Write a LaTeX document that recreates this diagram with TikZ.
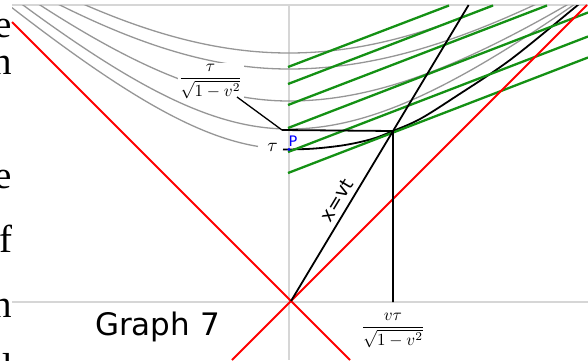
\documentclass[tikz,border=0pt]{standalone}
\usepackage{fontspec}
\newfontfamily\djv{DejaVu Sans}
\newfontfamily\pageserif{Liberation Serif}
\definecolor{axisgray}{RGB}{214,214,214}
\definecolor{hypgray}{RGB}{150,150,150}
\definecolor{simgreen}{RGB}{20,145,20}
\begin{document}
\begin{tikzpicture}[x=1pt,y=-1pt,
  axisline/.style={axisgray,line width=1.6pt},
  hyp/.style={hypgray,line width=1.3pt},
  simline/.style={simgreen,line width=2.3pt},
  cone/.style={red,line width=1.9pt},
  blk/.style={black,line width=1.8pt},
  pagetext/.style={font=\pageserif\fontsize{39}{39}\selectfont,anchor=base east,inner sep=0pt},
]
\useasboundingbox (0,0) rectangle (588,360);
% fragments of page text at the left edge
\node[pagetext] (t1) at (12.5,37) {e};
\node[pagetext] (t2) at (12.5,74) {n};
\node[pagetext] (t3) at (12.5,188) {e};
\node[pagetext] (t4) at (12.5,252) {f};
\node[pagetext] (t5) at (12.5,317) {n};
\node[pagetext] (t6) at (12.5,380) {d};
% frame and axes
\draw[axisline] (12,5) -- (588,5);
\draw[axisline] (12,302) -- (588,302);
\draw[axisline] (289,5) -- (289,360);
% hyperbolas
\begin{scope}
\clip (12,5) rectangle (588,360);
\draw[hyp] plot[domain=-2.3:2.3,samples=90] ({289+100*\x},{301-100*sqrt(2.48*2.48+0.63*\x*\x)});
\draw[hyp] plot[domain=-2.5:0,samples=60] ({289+100*\x},{301-100*sqrt(2.32*2.32+0.644*\x*\x)});
\draw[hyp] plot[domain=0:2.6,samples=60] ({289+100*\x},{301-100*sqrt(2.32*2.32+0.562*\x*\x)});
\draw[hyp] plot[domain=-2.8:0,samples=60] ({289+100*\x},{301-100*sqrt(2.0*2.0+0.768*\x*\x)});
\draw[hyp] plot[domain=0:3,samples=60] ({289+100*\x},{301-100*sqrt(2.0*2.0+0.617*\x*\x)});
\draw[hyp] plot[domain=-2.9:-0.09,samples=60] ({289+100*\x},{301-100*sqrt(1.72*1.72+0.82*\x*\x)});
\draw[hyp] plot[domain=0:3,samples=60] ({289+100*\x},{301-100*sqrt(1.72*1.72+0.717*\x*\x)});
\draw[hyp] plot[domain=-3:-0.31,samples=60] ({289+100*\x},{301-100*sqrt(1.52*1.52+0.82*\x*\x)});
\draw[blk] plot[smooth,tension=0.55] coordinates {(283,149.5) (289,149.5) (315,148.5) (345,145) (372,139) (393,131) (420,119) (455,97) (510,60) (573,9) (580,3)};
\end{scope}
% label over the curves
\node[fill=white,inner sep=1pt] (lab1) at (210.5,81) {\scalebox{1.7}{$\displaystyle\frac{\tau}{\sqrt{1-v^2}}$}};
% simultaneity lines
\draw[simline] (288,67) -- (449,5.5);
\draw[simline] (288,84) -- (493,5.5);
\draw[simline] (288,105) -- (547,5.5);
\draw[simline] (288,128) -- (588,12.5);
\draw[simline] (288,152) -- (588,36.5);
\draw[simline] (288,173) -- (588,57.5);
% light cone
\coordinate (O) at (291,301);
\draw[cone] (12,22) -- (O) -- (350,360);
\draw[cone] (587,5) -- (O) -- (232,360);
% world line and projections
\coordinate (Q) at (393,131);
\coordinate (W) at (468.6,5);
\coordinate (Qx) at (393,302);
\coordinate (L) at (282,130);
\coordinate (tip) at (237,97);
\draw[blk] (O) -- (W);
\draw[blk] (L) -- (Q) -- (Qx);
\draw[black,line width=1.3pt] (tip) -- (L);
% labels
\node (lab2) at (393,330) {\scalebox{1.7}{$\displaystyle\frac{v\tau}{\sqrt{1-v^2}}$}};
\node[font=\djv\fontsize{19}{19}\selectfont,rotate=59,inner sep=0pt] (wl) at (336.5,200) {x=vt};
\node (taulab) at (272.5,147) {\scalebox{1.9}{$\tau$}};
\node[font=\djv\fontsize{14.5}{14.5}\selectfont,text=blue,anchor=base west,inner sep=0pt] (Plab) at (288.5,146) {P};
\fill[blue] (289,149.5) circle (1.6pt);
\node[font=\djv\fontsize{31}{31}\selectfont,anchor=base west,inner sep=0pt] (g7) at (95,335) {Graph 7};
\end{tikzpicture}
\end{document}
